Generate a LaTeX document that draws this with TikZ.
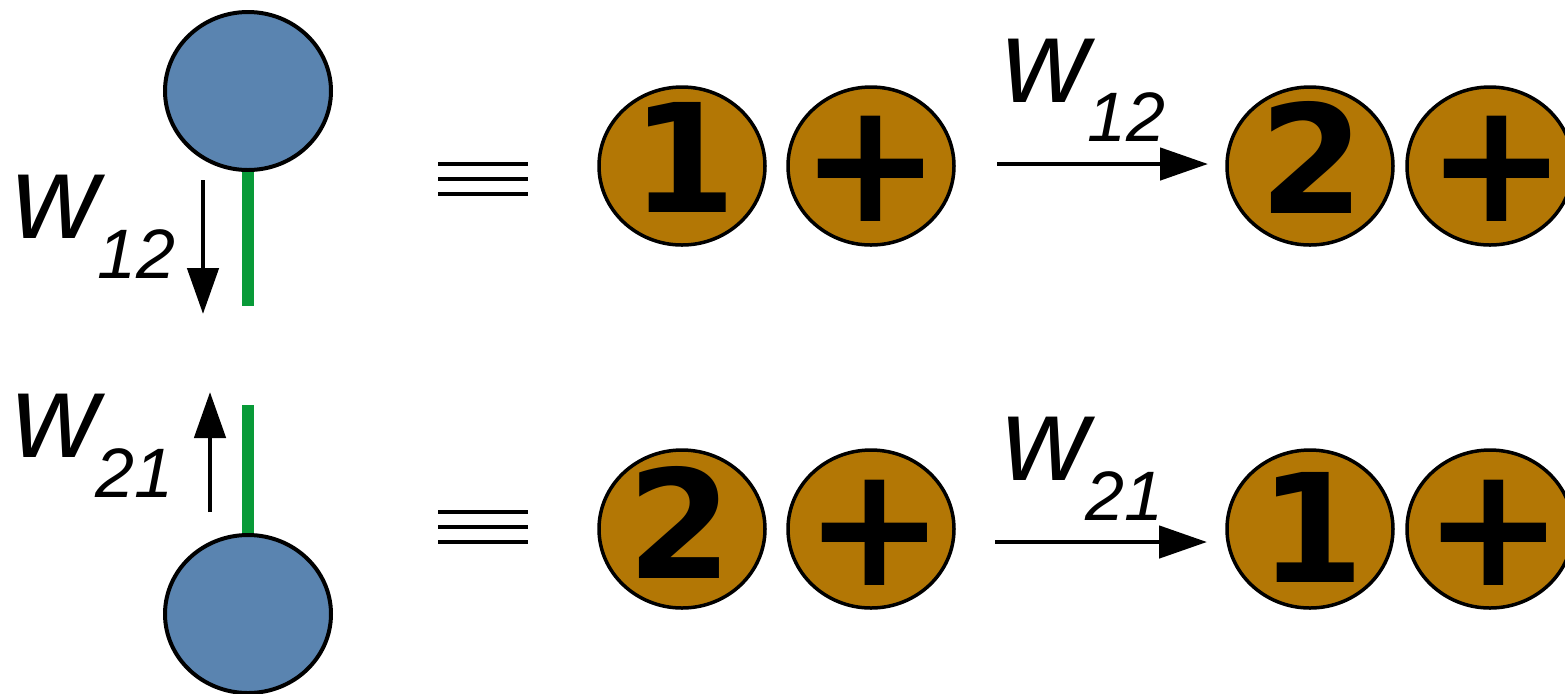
\documentclass[tikz,border=0pt]{standalone}
\usepackage{fontspec}
\setmainfont{Liberation Sans}
\newfontfamily\lsi{Liberation Sans}
\newfontfamily\dvb{DejaVu Sans}
\usetikzlibrary{shapes.geometric,arrows.meta}
\definecolor{bluec}{RGB}{90,132,176}
\definecolor{orangec}{RGB}{179,119,5}
\definecolor{greenc}{RGB}{8,154,56}
\begin{document}
\begin{tikzpicture}[x=0.5pt,y=-0.5pt,
  ball/.style={ellipse, draw=black, line width=2pt, fill=bluec, minimum width=83pt, minimum height=79pt, inner sep=0pt},
  coin/.style={ellipse, draw=black, line width=1.75pt, fill=orangec, minimum width=83pt, minimum height=79pt, inner sep=0pt},
  gline/.style={draw=greenc, line width=6pt},
  varr/.style={draw=black, line width=2.4pt, -{Triangle[length=23pt,width=15.5pt]}},
  harr/.style={draw=black, line width=2.4pt, -{Triangle[length=24pt,width=16pt]}},
  bar/.style={draw=black, line width=2.1pt},
  wl/.style={font=\lsi\itshape\fontsize{60pt}{60pt}\selectfont, inner sep=0pt, anchor=base west},
  sub/.style={font=\lsi\itshape\fontsize{35pt}{35pt}\selectfont, inner sep=0pt, anchor=base west},
  dig/.style={font=\dvb\bfseries\fontsize{75.5pt}{75.5pt}\selectfont, inner sep=0pt, anchor=base},
  pl/.style={font=\dvb\bfseries\fontsize{84pt}{84pt}\selectfont, inner sep=0pt, anchor=base}
]
\useasboundingbox (0,0) rectangle (1565,693);
\clip (0,0) rectangle (1565,693);

% blue balls and green bonds
\node[ball] (b1) at (248,91) {};
\node[ball] (b2) at (248,614) {};
\coordinate (g1) at (248,306);
\coordinate (g2) at (248,405);
\draw[gline] (b1.south) -- (g1);
\draw[gline] (g2) -- (b2.north);

% vertical arrows
\coordinate (d1) at (203,180);
\coordinate (d2) at (203,314);
\draw[varr] (d1) -- (d2);
\coordinate (u1) at (210,512);
\coordinate (u2) at (210,392);
\draw[varr] (u1) -- (u2);

% left labels
\node[wl] (lw1) at (12,238) {w};
\node[sub] (ls1) at (97,278) {12};
\node[wl] (lw2) at (12,457) {w};
\node[sub] (ls2) at (95,497) {21};

% triple bars
\draw[bar] (438,164) -- (528,164);
\draw[bar] (438,179) -- (528,179);
\draw[bar] (438,194) -- (528,194);
\draw[bar] (438,512) -- (528,512);
\draw[bar] (438,527) -- (528,527);
\draw[bar] (438,542) -- (528,542);

% top row coins
\node[coin] (c11) at (682,166) {};
\node[coin] (c12) at (871,166) {};
\node[coin] (c13) at (1310,166) {};
\node[coin] (c14) at (1490,166) {};
\node[dig] (t11) at (684,212) {1};
\node[pl] (t12) at (871,221) {+};
\node[dig] (t13) at (1312,213) {2};
\node[pl] (t14) at (1497,221) {+};

% bottom row coins
\node[coin] (c21) at (682,529) {};
\node[coin] (c22) at (871,529) {};
\node[coin] (c23) at (1310,529) {};
\node[coin] (c24) at (1490,529) {};
\node[dig] (t21) at (680,578) {2};
\node[pl] (t22) at (875,585) {+};
\node[dig] (t23) at (1312,582) {1};
\node[pl] (t24) at (1494,585) {+};

% horizontal arrows
\coordinate (h1) at (997,164);
\coordinate (h2) at (1208,164);
\draw[harr] (h1) -- (h2);
\coordinate (h3) at (995,542);
\coordinate (h4) at (1207,542);
\draw[harr] (h3) -- (h4);

% right labels
\node[wl] (rw1) at (1002,102) {w};
\node[sub] (rs1) at (1087,141) {12};
\node[wl] (rw2) at (1002,480) {w};
\node[sub] (rs2) at (1085,520) {21};
\end{tikzpicture}
\end{document}
